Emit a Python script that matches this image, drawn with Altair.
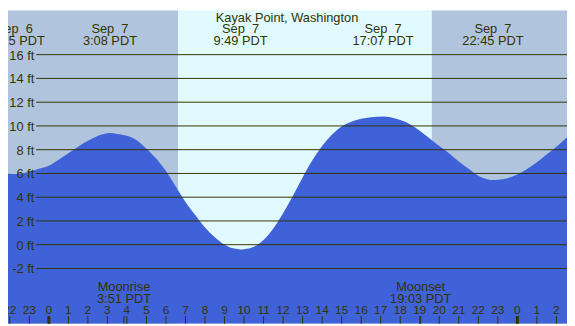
import altair as alt
import pandas as pd

# ---- data (hours counted from Sep 7 00:00 PDT) ----
tide_hours = [-2.5, -1.77, -1.0, -0.5, 0.0, 0.5, 1.0, 1.5, 2.0, 2.5, 3.13, 3.5, 4.0, 4.5,
              5.0, 5.5, 6.0, 6.5, 7.0, 7.5, 8.0, 8.5, 9.0, 9.5, 9.82, 10.0, 10.5, 11.0,
              11.5, 12.0, 12.5, 13.0, 13.5, 14.0, 14.5, 15.0, 15.5, 16.0, 16.5, 17.12,
              17.5, 18.0, 18.5, 19.0, 19.5, 20.0, 20.5, 21.0, 21.5, 22.0, 22.5, 22.75,
              23.0, 23.5, 24.0, 24.5, 25.0, 25.5, 26.0, 26.5, 27.0]
tide_ft = [6.05, 5.95, 6.15, 6.4, 6.65, 7.15, 7.7, 8.25, 8.75, 9.15, 9.4, 9.33, 9.17, 8.8,
           8.08, 7.25, 6.2, 4.9, 3.6, 2.5, 1.45, 0.63, 0.0, -0.33, -0.4, -0.38, -0.18, 0.4,
           1.36, 2.65, 4.1, 5.65, 7.1, 8.3, 9.25, 9.95, 10.35, 10.6, 10.74, 10.8,
           10.74, 10.5, 10.15, 9.6, 8.97, 8.3, 7.7, 7.0, 6.4, 5.8, 5.5, 5.45,
           5.47, 5.6, 5.9, 6.38, 6.95, 7.6, 8.25, 8.97, 9.5]

extreme_hours = [-1.77, 3.13, 9.82, 17.12, 22.75]
extreme_dates = ["Sep\u00a0\u00a06", "Sep\u00a0\u00a07", "Sep\u00a0\u00a07", "Sep\u00a0\u00a07", "Sep\u00a0\u00a07"]
extreme_times = ["22:15 PDT", "3:08 PDT", "9:49 PDT", "17:07 PDT", "22:45 PDT"]

level_ft = [16, 14, 12, 10, 8, 6, 4, 2, 0, -2]
level_labels = ["16 ft", "14 ft", "12 ft", "10 ft", "8 ft", "6 ft", "4 ft", "2 ft", "0 ft", "-2 ft"]

hour_ticks = [-2, -1, 0, 1, 2, 3, 4, 5, 6, 7, 8, 9, 10, 11, 12, 13, 14, 15, 16, 17, 18,
              19, 20, 21, 22, 23, 24, 25, 26]
hour_labels = ["22", "23", "0", "1", "2", "3", "4", "5", "6", "7", "8", "9", "10", "11",
               "12", "13", "14", "15", "16", "17", "18", "19", "20", "21", "22", "23",
               "0", "1", "2"]
hour_widths = [1, 1, 3, 1, 1, 1, 1, 1, 1, 1, 1, 1, 1, 1, 1, 1, 1, 1, 1, 1, 1, 1, 1, 1, 1,
               1, 3, 1, 1]

band_start = [-3.0, 6.617, 19.617]
band_end = [6.617, 19.617, 28.0]
band_kind = ["night", "day", "night"]

moon_hours = [3.85, 19.05]
moon_names = ["Moonrise", "Moonset"]
moon_times = ["3:51 PDT", "19:03 PDT"]

title_text = "Kayak Point, Washington"

# ---- layout ----
W, H = 567, 318
sx, sy = W / 575, H / 326
FONT = "Liberation Sans"
INK = "#333300"

xs = alt.Scale(domain=[-2.092, 26.544], nice=False, zero=False)
ys = alt.Scale(domain=[-6.656, 19.74], nice=False, zero=False)

tide = pd.DataFrame({"h": tide_hours, "ft": tide_ft})
ext = pd.DataFrame({"h": extreme_hours, "d": extreme_dates, "t": extreme_times})
lev = pd.DataFrame({"ft": level_ft, "label": level_labels})
hrs = pd.DataFrame({"h": hour_ticks, "label": hour_labels, "w": hour_widths})
bands = pd.DataFrame({"s": band_start, "e": band_end, "k": band_kind})
moon = pd.DataFrame({"h": moon_hours, "n": moon_names, "t": moon_times})
ttl = pd.DataFrame({"t": [title_text]})


def X(f):
    return alt.X(f, scale=xs, axis=None)


def Y(f):
    return alt.Y(f, scale=ys, axis=None, stack=None)


bg = alt.Chart(bands).mark_rect(clip=True).encode(
    x=X("s:Q"), x2="e:Q", y=alt.value(0), y2=alt.value(H),
    color=alt.Color("k:N", scale=alt.Scale(domain=["night", "day"],
                                           range=["#B0C4DE", "#E0FAFF"]), legend=None),
)

area = alt.Chart(tide).mark_area(color="#4062D8", interpolate="monotone", clip=True).encode(
    x=X("h:Q"), y=Y("ft:Q"), y2=alt.value(H)
)

rules = alt.Chart(lev).mark_rule(color=INK, strokeWidth=1).encode(
    y=Y("ft:Q"), x=alt.value(29 * sx), x2=alt.value(W)
)

lev_text = alt.Chart(lev).mark_text(align="right", baseline="middle", font=FONT,
                                    fontSize=13, color=INK, dy=1).encode(
    y=Y("ft:Q"), x=alt.value(27 * sx), text="label:N"
)

ticks = alt.Chart(hrs).mark_rule(color=INK).encode(
    x=X("h:Q"), y=alt.value(318 * sy), y2=alt.value(H),
    strokeWidth=alt.StrokeWidth("w:Q", scale=None, legend=None)
)

hour_text = alt.Chart(hrs).mark_text(align="center", baseline="alphabetic", font=FONT,
                                     fontSize=12, color=INK).encode(
    x=X("h:Q"), y=alt.value(316 * sy), text="label:N"
)

moon_ticks = alt.Chart(moon).mark_rule(color=INK, strokeWidth=1).encode(
    x=X("h:Q"), y=alt.value(318 * sy), y2=alt.value(H)
)
moon_name = alt.Chart(moon).mark_text(align="center", baseline="alphabetic", font=FONT,
                                      fontSize=13, color=INK).encode(
    x=X("h:Q"), y=alt.value(292 * sy), text="n:N"
)
moon_time = alt.Chart(moon).mark_text(align="center", baseline="alphabetic", font=FONT,
                                      fontSize=13, color=INK).encode(
    x=X("h:Q"), y=alt.value(304.5 * sy), text="t:N"
)

ext_date = alt.Chart(ext).mark_text(align="center", baseline="alphabetic", font=FONT,
                                    fontSize=13, color=INK).encode(
    x=X("h:Q"), y=alt.value(24 * sy), text="d:N"
)
ext_time = alt.Chart(ext).mark_text(align="center", baseline="alphabetic", font=FONT,
                                    fontSize=13, color=INK).encode(
    x=X("h:Q"), y=alt.value(36 * sy), text="t:N"
)

title = alt.Chart(ttl).mark_text(align="center", baseline="alphabetic", font=FONT,
                                 fontSize=13, color=INK).encode(
    x=alt.value(287 * sx), y=alt.value(12 * sy), text="t:N"
)

chart = alt.layer(
    bg, area, rules, lev_text, ticks, moon_ticks, hour_text, moon_name, moon_time,
    ext_date, ext_time, title
).properties(width=W, height=H, padding=0, autosize=alt.AutoSizeParams(type="none")
).configure_view(stroke=None)

chart.save("out.html", embed_options={"renderer": "svg", "actions": False})
